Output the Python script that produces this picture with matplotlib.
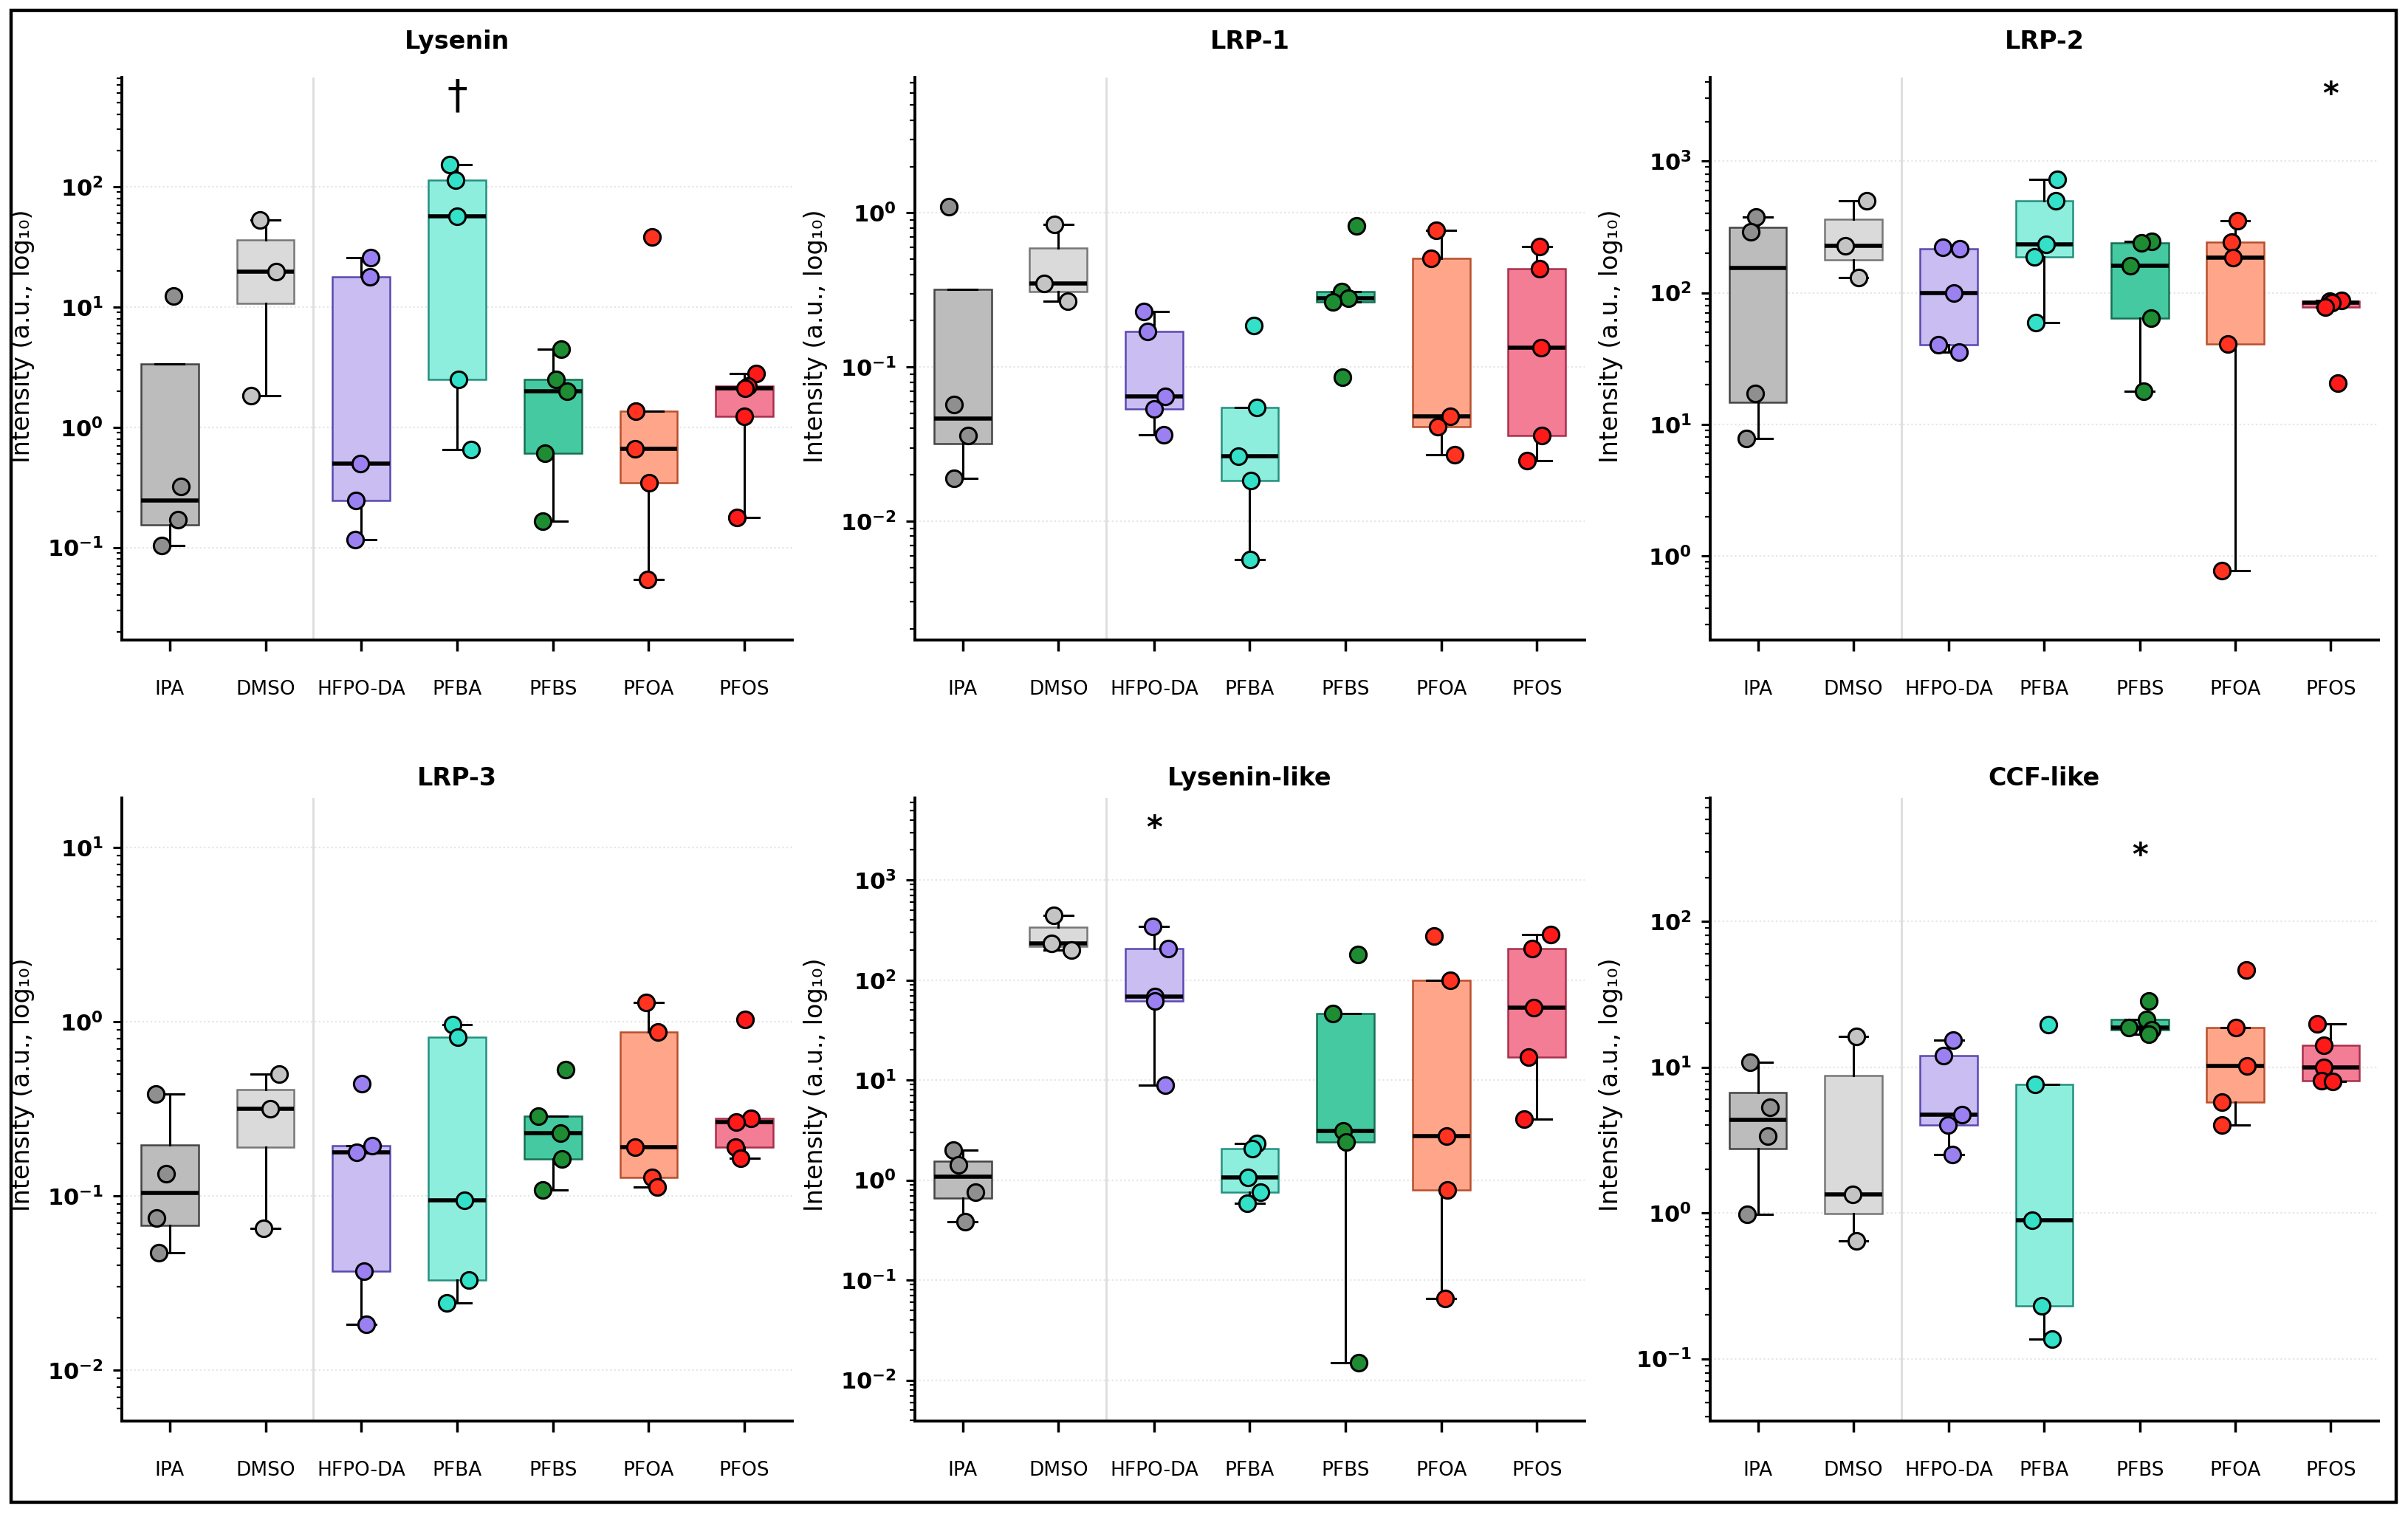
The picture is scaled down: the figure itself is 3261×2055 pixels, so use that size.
import numpy as np
import matplotlib
matplotlib.use('Agg')
import matplotlib.pyplot as plt
from matplotlib.patches import Rectangle
from matplotlib.ticker import FuncFormatter, LogLocator, NullFormatter
from matplotlib.transforms import ScaledTranslation

groups = ['IPA', 'DMSO', 'HFPO-DA', 'PFBA', 'PFBS', 'PFOA', 'PFOS']

# intensity per group
lysenin = [
    [12.4, 0.32, 0.17, 0.104],
    [53, 19.7, 1.83],
    [25.8, 17.8, 0.50, 0.247, 0.117],
    [153, 113, 56.6, 2.49, 0.65],
    [4.48, 2.49, 1.99, 0.61, 0.166],
    [38.4, 1.36, 0.66, 0.344, 0.054],
    [2.80, 2.2, 2.1, 1.24, 0.178],
]
lrp1 = [
    [1.10, 0.057, 0.036, 0.019],
    [0.84, 0.349, 0.267],
    [0.229, 0.171, 0.0647, 0.0536, 0.0364],
    [0.187, 0.055, 0.0265, 0.0184, 0.00566],
    [0.82, 0.31, 0.28, 0.265, 0.086],
    [0.77, 0.506, 0.0482, 0.041, 0.0269],
    [0.608, 0.437, 0.134, 0.0361, 0.0247],
]
lrp2 = [
    [376, 291, 17.1, 7.8],
    [497, 226, 130],
    [222, 215, 100, 40.5, 35.2],
    [731, 501, 233, 187, 59],
    [245, 240, 161, 64, 17.8],
    [352, 243, 185, 40.8, 0.77],
    [88, 86, 84, 78, 20.6],
]
lrp3 = [
    [0.386, 0.134, 0.075, 0.047],
    [0.502, 0.317, 0.065],
    [0.44, 0.195, 0.178, 0.037, 0.0184],
    [0.96, 0.817, 0.094, 0.0328, 0.0243],
    [0.533, 0.286, 0.229, 0.163, 0.108],
    [1.29, 0.871, 0.19, 0.128, 0.113],
    [1.03, 0.278, 0.266, 0.191, 0.165],
]
lysenin_like = [
    [1.99, 1.41, 0.76, 0.382],
    [443, 233, 201],
    [344, 208, 68.5, 61.8, 8.9],
    [2.31, 2.06, 1.07, 0.76, 0.583],
    [181, 46.4, 3.11, 2.39, 0.0149],
    [277, 100, 2.77, 0.80, 0.065],
    [284, 208, 53.2, 16.9, 4.1],
]
ccf_like = [
    [10.8, 5.33, 3.36, 0.98],
    [16.2, 1.34, 0.644],
    [15.4, 12.0, 4.7, 3.99, 2.51],
    [19.5, 7.6, 0.895, 0.23, 0.136],
    [28.6, 21.3, 18.8, 18.0, 16.9],
    [46.3, 18.6, 10.2, 5.77, 4.02],
    [19.8, 14.1, 10.0, 8.09, 8.0],
]

titles = ['Lysenin', 'LRP-1', 'LRP-2', 'LRP-3', 'Lysenin-like', 'CCF-like']
panels = [lysenin, lrp1, lrp2, lrp3, lysenin_like, ccf_like]
ylims = [(0.017, 810), (0.0017, 7.55), (0.23, 4320),
         (0.0051, 19.3), (0.0039, 6620), (0.0374, 702)]

# significance marks: panel index, group index, height, symbol
sig_panel = [0, 2, 4, 5]
sig_group = [3, 6, 2, 4]
sig_y = [560, 3160, 3215, 278]
sig_symbol = ['\u2020', '*', '*', '*']

box_colors = ['#bcbcbc', '#dadada', '#c9bdf2', '#8eeedd', '#45c9a0', '#ffa68a', '#f27d95']
edge_colors = ['#444444', '#777777', '#5a48b0', '#24907f', '#176f52', '#b84f2c', '#a8304c']
point_colors = ['#8f8f8f', '#c4c4c4', '#9b80f2', '#33e0c8', '#1e8c32', '#ff3320', '#ff1a1a']

# x tick labels in the source sit a little off their ticks (pixels)
lab_dx = [-15, -40, -6, 21, 11, 2, 10]
lab_dy = [0, 0, 0, -2, -2, -5, -5]

W, H = 3262, 2055
fig = plt.figure(figsize=(W / 100, H / 100), dpi=100)
plt.rcParams['font.family'] = ['DejaVu Sans']

cols_px = [(165, 1073), (1239, 2146), (2316, 3221)]
rows_px = [(105, 867), (1081, 1925)]
title_pad = [28, 12]

rng = np.random.default_rng(7)


def log_fmt(v, pos):
    e = int(round(np.log10(v)))
    return r'$\mathbf{10^{%d}}$' % e


for k, data in enumerate(panels):
    r, c = divmod(k, 3)
    x0, x1 = cols_px[c]
    y0, y1 = rows_px[r]
    ax = fig.add_axes([x0 / W, 1 - y1 / H, (x1 - x0) / W, (y1 - y0) / H])
    ax.set_yscale('log')
    pos = np.arange(len(groups))

    lo, hi = ylims[k]
    for e in range(int(np.ceil(np.log10(lo))), int(np.floor(np.log10(hi))) + 1):
        ax.axhline(10.0 ** e, color='#e6e6e6', lw=1.6, ls=(0, (1, 1.5)), zorder=0)
    ax.axvline(1.5, color='#dddddd', lw=2, zorder=0)

    bp = ax.boxplot(data, positions=pos, widths=0.6, patch_artist=True,
                    showfliers=False, capwidths=0.3,
                    medianprops=dict(color='black', lw=4),
                    whiskerprops=dict(color='black', lw=2.2),
                    capprops=dict(color='black', lw=2.2),
                    boxprops=dict(lw=1.8), zorder=2)
    for i, b in enumerate(bp['boxes']):
        b.set_facecolor(box_colors[i])
        b.set_edgecolor(edge_colors[i])

    for i, vals in enumerate(data):
        xs = i + rng.uniform(-0.15, 0.15, len(vals))
        ax.plot(xs, vals, 'o', ms=16, mfc=point_colors[i], mec='black',
                mew=2.2, zorder=4, ls='none')

    for p, g, yv, s in zip(sig_panel, sig_group, sig_y, sig_symbol):
        if p == k:
            if s == '\u2020':
                ax.text(g, yv, s, ha='center', va='center', fontsize=40,
                        color='black', zorder=5)
            else:
                ax.text(g, yv, s, ha='center', va='center', fontsize=30,
                        fontweight='bold', color='black', zorder=5)

    ax.set_xlim(-0.5, 6.5)
    ax.set_ylim(lo, hi)
    ax.set_xticks(pos)
    ax.set_xticklabels(groups, fontsize=19)
    for lab, dx, dy in zip(ax.get_xticklabels(), lab_dx, lab_dy):
        lab.set_transform(lab.get_transform() +
                          ScaledTranslation(dx / 100, dy / 100, fig.dpi_scale_trans))
    ax.tick_params(axis='x', length=11, width=2.5, pad=28)

    ax.yaxis.set_major_locator(LogLocator(base=10, numticks=12))
    ax.yaxis.set_major_formatter(FuncFormatter(log_fmt))
    ax.yaxis.set_minor_locator(LogLocator(base=10, subs=np.arange(2, 10), numticks=12))
    ax.yaxis.set_minor_formatter(NullFormatter())
    ax.tick_params(axis='y', which='major', length=9, width=2.2, labelsize=22, pad=9)
    ax.tick_params(axis='y', which='minor', length=5, width=1.6)

    for side in ['top', 'right']:
        ax.spines[side].set_visible(False)
    for side in ['left', 'bottom']:
        ax.spines[side].set_linewidth(2.8)

    ax.set_ylabel('Intensity (a.u., log\u2081\u2080)', fontsize=24)
    ax.yaxis.set_label_coords(-0.13, 0.54)
    ax.set_title(titles[k], fontsize=24, fontweight='bold', pad=title_pad[r])

fig.add_artist(Rectangle((15 / W, 1 - 2035 / H), (3245 - 15) / W, (2035 - 14) / H,
                         transform=fig.transFigure, fill=False, lw=3.2, ec='black'))

fig.savefig('out.png', dpi=100, facecolor='white')
